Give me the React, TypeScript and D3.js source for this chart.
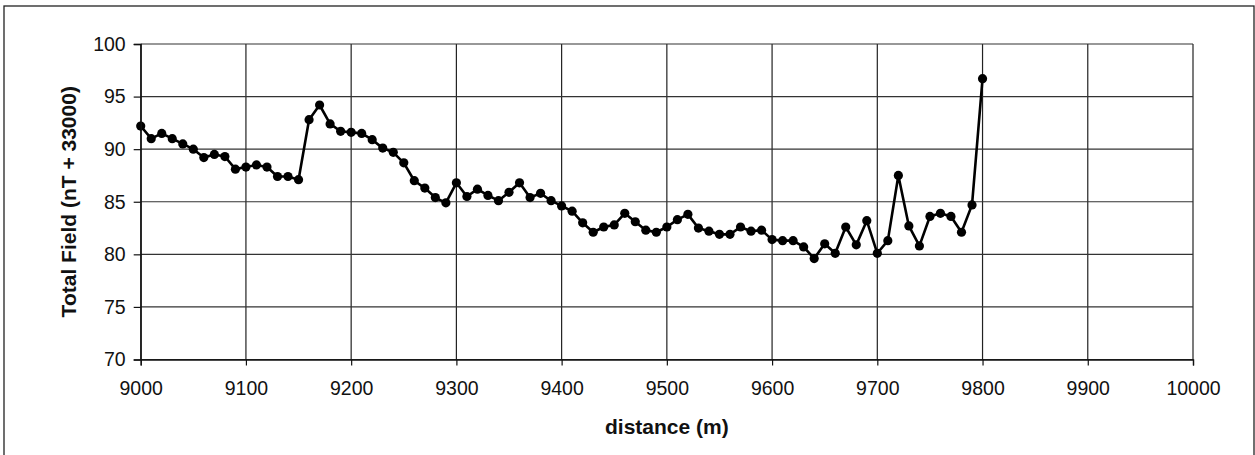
import * as d3 from "d3";
import { useEffect, useRef } from "react";

// distance along the line (m), one reading every 10 m
const distances: number[] = d3.range(9000, 9801, 10);

// total field minus 33000 nT
const fieldValues: number[] = [
  92.2, 91.0, 91.5, 91.0, 90.5, 90.0, 89.2, 89.5, 89.3, 88.1,
  88.3, 88.5, 88.3, 87.4, 87.4, 87.1, 92.8, 94.2, 92.4, 91.7,
  91.6, 91.5, 90.9, 90.1, 89.7, 88.7, 87.0, 86.3, 85.4, 84.9,
  86.8, 85.5, 86.2, 85.6, 85.1, 85.9, 86.8, 85.4, 85.8, 85.1,
  84.6, 84.1, 83.0, 82.1, 82.6, 82.8, 83.9, 83.1, 82.3, 82.1,
  82.6, 83.3, 83.8, 82.5, 82.2, 81.9, 81.9, 82.6, 82.2, 82.3,
  81.4, 81.3, 81.3, 80.7, 79.6, 81.0, 80.1, 82.6, 80.9, 83.2,
  80.1, 81.3, 87.5, 82.7, 80.8, 83.6, 83.9, 83.6, 82.1, 84.7,
  96.7,
];

const xTicks: number[] = [9000, 9100, 9200, 9300, 9400, 9500, 9600, 9700, 9800, 9900, 10000];
const yTicks: number[] = [70, 75, 80, 85, 90, 95, 100];

const xTitle = "distance (m)";
const yTitle = "Total Field (nT + 33000)";

const width = 1255;
const height = 455;
const marginLeft = 140.7;
const marginRight = 62;
const marginTop = 44;
const marginBottom = 95.5;

const font = "Arial, 'Liberation Sans', Helvetica, sans-serif";

const App = () => {
  const svgRef = useRef<SVGSVGElement>(null);

  const x = d3.scaleLinear([9000, 10000], [marginLeft, width - marginRight]);
  const y = d3.scaleLinear([70, 100], [height - marginBottom, marginTop]);

  const data = distances.map((d, i) => ({ d, v: fieldValues[i] }));
  const line = d3.line<{ d: number; v: number }>(
    (p) => x(p.d),
    (p) => y(p.v)
  );

  useEffect(() => {
    const svg = d3.select(svgRef.current);
    svg.selectAll(".axis").remove();

    const gx = svg
      .append("g")
      .attr("class", "axis")
      .attr("transform", `translate(0,${height - marginBottom})`)
      .call(
        d3
          .axisBottom(x)
          .tickValues(xTicks)
          .tickSize(6)
          .tickPadding(16)
          .tickFormat(d3.format("d"))
      );
    const gy = svg
      .append("g")
      .attr("class", "axis")
      .attr("transform", `translate(${marginLeft},0)`)
      .call(d3.axisLeft(y).tickValues(yTicks).tickSize(7).tickPadding(8));

    for (const g of [gx, gy]) {
      g.select(".domain").attr("stroke", "#111").attr("stroke-width", 1.3);
      g.selectAll(".tick line").attr("stroke", "#111").attr("stroke-width", 1.2);
      g.selectAll(".tick text")
        .attr("fill", "#111")
        .style("font-family", font)
        .style("font-size", "19.5px");
    }
  }, [x, y]);

  return (
    <svg
      ref={svgRef}
      width={width}
      height={height}
      style={{ position: "absolute", left: 0, top: 0, background: "#fff" }}
    >
      <rect x={4} y={6} width={1250} height={470} fill="#fff" stroke="#222" strokeWidth={1.3} />

      {/* grid */}
      {xTicks.map((t) => (
        <line
          key={"gx" + t}
          x1={x(t)}
          x2={x(t)}
          y1={y(100)}
          y2={y(70)}
          stroke="#222"
          strokeWidth={1.2}
        />
      ))}
      {yTicks.map((t) => (
        <line
          key={"gy" + t}
          x1={x(9000)}
          x2={x(10000)}
          y1={y(t)}
          y2={y(t)}
          stroke="#333"
          strokeWidth={1.2}
        />
      ))}

      <path d={line(data) ?? ""} fill="none" stroke="#000" strokeWidth={2.6} strokeLinejoin="round" />
      {data.map((p) => (
        <circle key={p.d} cx={x(p.d)} cy={y(p.v)} r={4.6} fill="#000" />
      ))}

      <text
        x={(x(9000) + x(10000)) / 2}
        y={434}
        textAnchor="middle"
        fontFamily={font}
        fontWeight="bold"
        fontSize={21}
        fill="#111"
      >
        {xTitle}
      </text>
      <text
        transform={`translate(76,${(y(70) + y(100)) / 2}) rotate(-90)`}
        textAnchor="middle"
        fontFamily={font}
        fontWeight="bold"
        fontSize={21}
        fill="#111"
      >
        {yTitle}
      </text>
    </svg>
  );
};

export default App;
